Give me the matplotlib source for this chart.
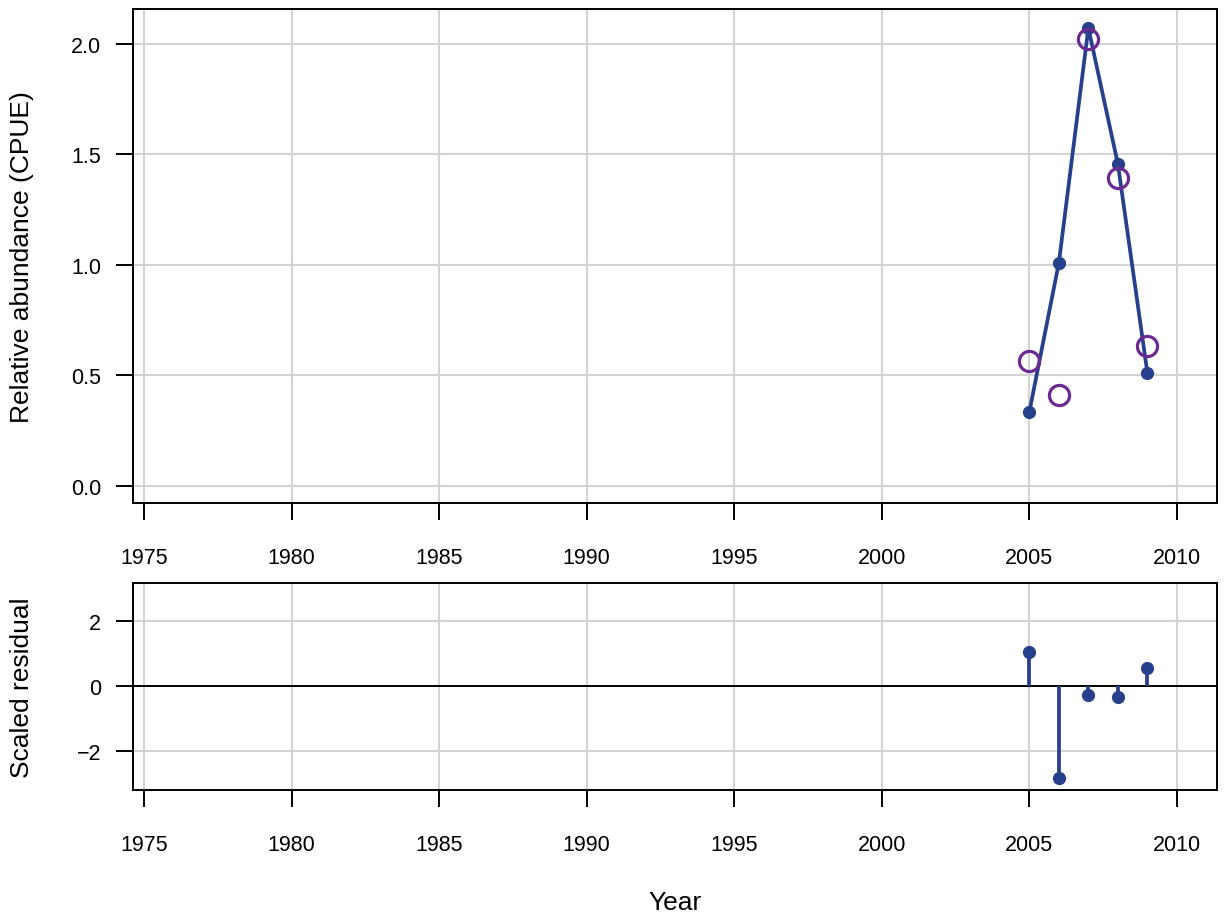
import numpy as np
import matplotlib
matplotlib.use("Agg")
import matplotlib.pyplot as plt

plt.rcParams['font.family'] = ['Liberation Sans', 'DejaVu Sans']

# Data
years = [2005, 2006, 2007, 2008, 2009]
predicted = [0.335, 1.009, 2.072, 1.457, 0.511]
observed = [0.566, 0.412, 2.023, 1.394, 0.633]
residuals = [1.05, -2.83, -0.28, -0.33, 0.55]

xticks = list(range(1975, 2011, 5))
top_yticks = [0.0, 0.5, 1.0, 1.5, 2.0]
top_yticklabels = ['0.0', '0.5', '1.0', '1.5', '2.0']
bot_yticks = [-2, 0, 2]
bot_yticklabels = ['\u22122', '0', '2']

blue = '#27408b'
purple = '#6a2a92'
gridc = '#d3d3d3'

fig = plt.figure(figsize=(12.25, 9.2), dpi=100)
ax1 = fig.add_axes([0.1086, 0.4522, 0.8849, 0.5369])
ax2 = fig.add_axes([0.1086, 0.1402, 0.8849, 0.2250])

for ax in (ax1, ax2):
    ax.set_xlim(1974.63, 2011.36)
    ax.set_xticks(xticks)
    ax.set_xticklabels([str(x) for x in xticks])
    for x in xticks:
        ax.axvline(x, color=gridc, lw=1.5, zorder=0)
    for s in ax.spines.values():
        s.set_linewidth(1.4)
    ax.tick_params(axis='both', direction='out', length=12, width=1.4,
                   labelsize=15.5)
    ax.tick_params(axis='x', pad=20)
    ax.tick_params(axis='y', pad=11)

# Top panel
ax1.set_ylim(-0.077, 2.158)
ax1.set_yticks(top_yticks)
ax1.set_yticklabels(top_yticklabels)
for y in top_yticks:
    ax1.axhline(y, color=gridc, lw=1.5, zorder=0)
ax1.plot(years, predicted, color=blue, lw=2.7, marker='o', ms=8.5, zorder=3)
ax1.plot(years, observed, ls='none', marker='o', ms=14.5, mfc='none',
         mec=purple, mew=2.3, zorder=4)

# Bottom panel
ax2.set_ylim(-3.2, 3.17)
ax2.set_yticks(bot_yticks)
ax2.set_yticklabels(bot_yticklabels)
for y in [-2, 2]:
    ax2.axhline(y, color=gridc, lw=1.5, zorder=0)
ax2.axhline(0, color='black', lw=1.4, zorder=1)
ax2.vlines(years, 0, residuals, color=blue, lw=2.7, zorder=2)
ax2.plot(years, residuals, ls='none', color=blue, marker='o', ms=8.5, zorder=3)

# Axis titles placed like R's outer margin text
fig.text(22 / 1225, (920 - 257) / 920, 'Relative abundance (CPUE)', fontsize=19,
         rotation=90, ha='center', va='center')
fig.text(22 / 1225, (920 - 688) / 920, 'Scaled residual', fontsize=19,
         rotation=90, ha='center', va='center')
fig.text(675 / 1225, (920 - 903) / 920, 'Year', fontsize=19,
         ha='center', va='center')

fig.savefig('out.png', dpi=100)
